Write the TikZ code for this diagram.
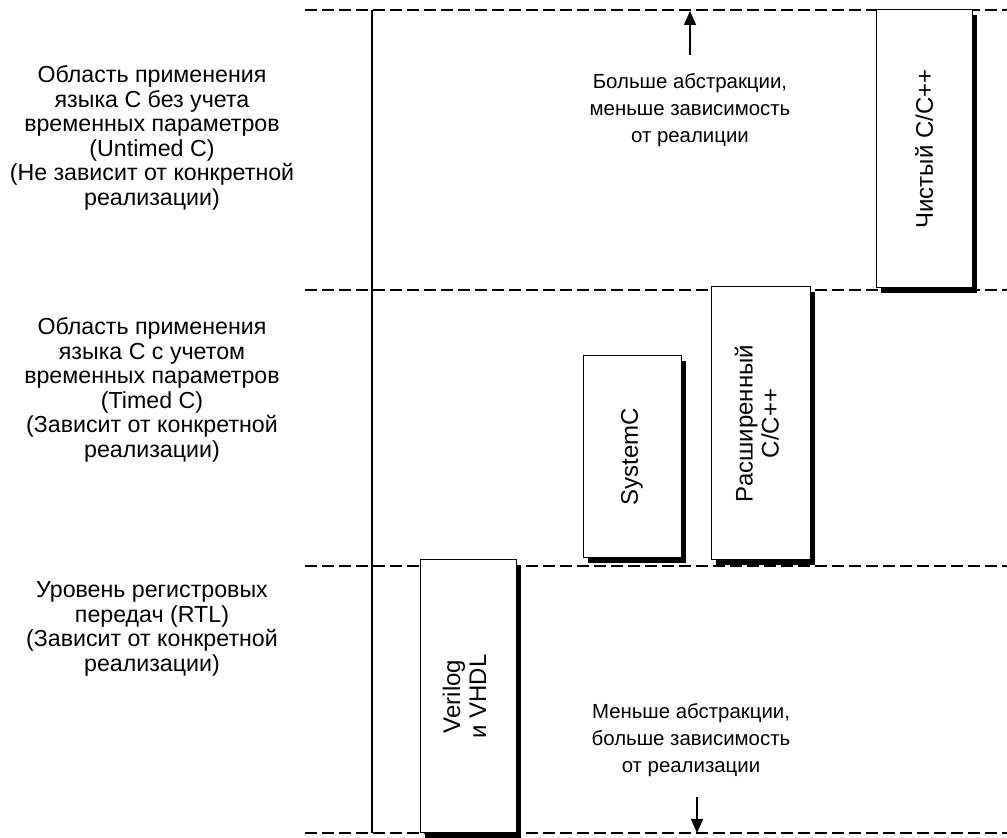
\documentclass[tikz,border=0pt]{standalone}
\usepackage{fontspec}
\setmainfont{Liberation Sans}
\usetikzlibrary{shadows,arrows.meta}

\begin{document}
\begin{tikzpicture}[x=0.5pt,y=-0.5pt,
        level/.style={dash pattern=on 6pt off 2.5pt, line width=1.2pt},
        area/.style={align=center, font=\fontsize{11.6}{12.3}\selectfont},
        note/.style={align=center, font=\fontsize{10.2}{13.6}\selectfont},
        lang/.style={draw, fill=white, inner sep=0pt, line width=0.5pt,
            drop shadow={shadow xshift=2.6pt, shadow yshift=-2.6pt, fill=black, opacity=1},
            font=\fontsize{12}{13}\selectfont}]
        \useasboundingbox (0,0) rectangle (1007,838);
        % levels
        \draw[level](305,10)--(1007,10);
        \draw[level](305,290)--(1007,290);
        \draw[level](305,566)--(1007,566);
        \draw[level](305,833)--(1007,833);
        \draw[line width=0.7pt](372,10)--(372,833);
        % areas
        \node[area] (untimed) at (152,138) {Область применения\\языка C без учета\\временных параметров\\(Untimed C)\\(Не зависит от конкретной\\реализации)};
        \node[area] (timed) at (152,390) {Область применения\\языка C с учетом\\временных параметров\\(Timed C)\\(Зависит от конкретной\\реализации)};
        \node[area] (rtl) at (152,629) {Уровень регистровых\\передач (RTL)\\(Зависит от конкретной\\реализации)};
        % languages
        \node[lang, minimum width=48pt, minimum height=139pt] (pure) at (924,149) {\rotatebox{90}{Чистый C/C++}};
        \node[lang, minimum width=49.5pt, minimum height=136.5pt] (ext) at (760.5,423.5) {\rotatebox{90}{\begin{tabular}{@{}c@{}}Расширенный\\C/C++\end{tabular}}};
        \node[lang, minimum width=49pt, minimum height=101pt] (sysc) at (632,457) {\rotatebox{90}{SystemC}};
        \node[lang, minimum width=48pt, minimum height=136.5pt] (hdl) at (468,696.5) {\rotatebox{90}{\begin{tabular}{@{}c@{}}Verilog\\и VHDL\end{tabular}}};
        % abstraction
        \node[note] (more) at (690,110) {Больше абстракции,\\меньше зависимость\\от реалиции};
        \node[note] (less) at (691,740) {Меньше абстракции,\\больше зависимость\\от реализации};
        \coordinate (upfrom) at (690,55);
        \coordinate (upto) at (690,11);
        \coordinate (downfrom) at (697,797);
        \coordinate (downto) at (697,833);
        \draw[-{Triangle[length=7pt,width=6pt]},line width=0.7pt](upfrom)--(upto);
        \draw[-{Triangle[length=7pt,width=6pt]},line width=0.7pt](downfrom)--(downto);
    \end{tikzpicture}
\end{document}
